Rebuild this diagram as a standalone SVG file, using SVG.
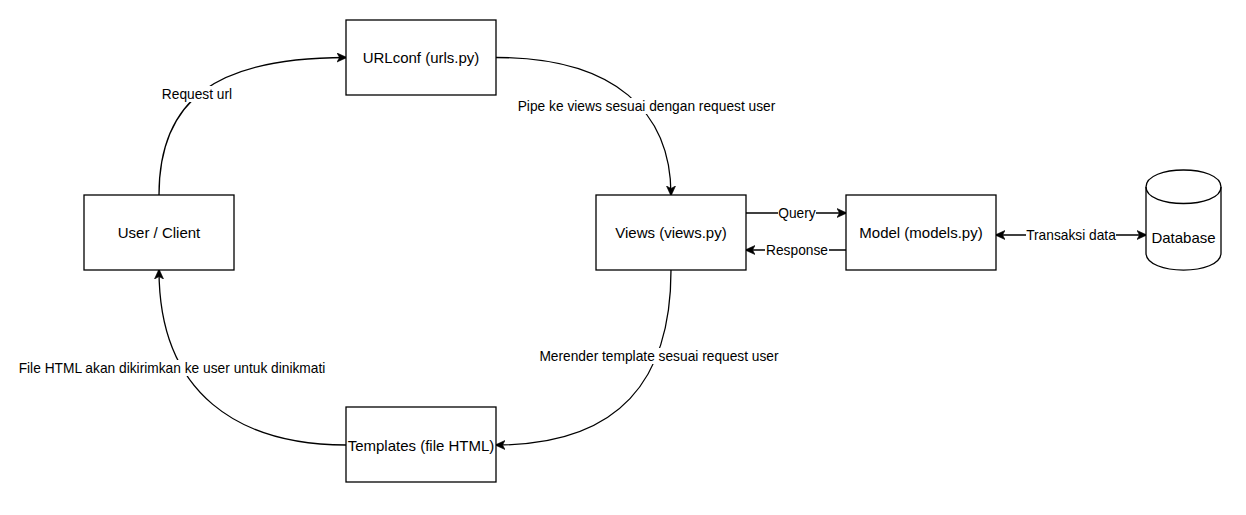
<svg xmlns="http://www.w3.org/2000/svg" width="1246" height="515" viewBox="0 0 1246 515">
<style>
  .box { fill: #ffffff; stroke: #000000; stroke-width: 1.3; }
  .ntext { font-family: "Liberation Sans", Arial, sans-serif; font-size: 15px; fill: #000000; text-anchor: middle; }
  .edge { fill: none; stroke: #000000; stroke-width: 1.3; }
  .ltext { font-family: "Liberation Sans", Arial, sans-serif; font-size: 13.75px; fill: #000000; text-anchor: middle; }
  .lbg { fill: #ffffff; stroke: none; }
</style>
<defs>
  <marker id="arrow" viewBox="0 0 10 10" refX="9" refY="5" markerWidth="10" markerHeight="10" markerUnits="userSpaceOnUse" orient="auto-start-reverse">
    <path d="M0,0.5 L10,5 L0,9.5 L2.5,5 Z" fill="#000000" stroke="#000000" stroke-width="0.6"/>
  </marker>
</defs>
<rect width="1246" height="515" fill="#ffffff"/>

<g id="connectors">
  <path class="edge" d="M159,195 C159,100 215,57.5 346,57.5" marker-end="url(#arrow)"/>
  <path class="edge" d="M496,57.5 C615,57.5 671,112 671,195" marker-end="url(#arrow)"/>
  <path class="edge" d="M671,270 C671,380 620,445 496,445" marker-end="url(#arrow)"/>
  <path class="edge" d="M346,445 C240,445 159,395 159,270" marker-end="url(#arrow)"/>
  <path class="edge" d="M746,213 L846,213" marker-end="url(#arrow)"/>
  <path class="edge" d="M846,250 L746,250" marker-end="url(#arrow)"/>
  <path class="edge" d="M996,235 L1146,235" marker-start="url(#arrow)" marker-end="url(#arrow)"/>

  <g id="label-request">
    <rect class="lbg" x="161" y="86" width="72" height="16"/>
    <text class="ltext" x="197" y="99">Request url</text>
  </g>
  <g id="label-pipe">
    <rect class="lbg" x="517" y="98" width="259" height="16"/>
    <text class="ltext" x="646.5" y="111">Pipe ke views sesuai dengan request user</text>
  </g>
  <g id="label-merender">
    <rect class="lbg" x="538" y="348" width="242" height="16"/>
    <text class="ltext" x="659" y="361">Merender template sesuai request user</text>
  </g>
  <g id="label-file">
    <rect class="lbg" x="18" y="360" width="308" height="16"/>
    <text class="ltext" x="172" y="373">File HTML akan dikirimkan ke user untuk dinikmati</text>
  </g>
  <g id="label-query">
    <rect class="lbg" x="778" y="206" width="38" height="15"/>
    <text class="ltext" x="797" y="218">Query</text>
  </g>
  <g id="label-response">
    <rect class="lbg" x="765" y="243" width="64" height="15"/>
    <text class="ltext" x="797" y="255">Response</text>
  </g>
  <g id="label-transaksi">
    <rect class="lbg" x="1026" y="227" width="90" height="16"/>
    <text class="ltext" x="1071" y="240">Transaksi data</text>
  </g>
</g>

<g id="node-urlconf">
  <rect class="box" x="346" y="20" width="150" height="75"/>
  <text class="ntext" x="421" y="63">URLconf (urls.py)</text>
</g>
<g id="node-user">
  <rect class="box" x="84" y="195" width="150" height="75"/>
  <text class="ntext" x="159" y="238">User / Client</text>
</g>
<g id="node-views">
  <rect class="box" x="596" y="195" width="150" height="75"/>
  <text class="ntext" x="671" y="238">Views (views.py)</text>
</g>
<g id="node-model">
  <rect class="box" x="846" y="195" width="150" height="75"/>
  <text class="ntext" x="921" y="238">Model (models.py)</text>
</g>
<g id="node-templates">
  <rect class="box" x="346" y="407" width="150" height="75"/>
  <text class="ntext" x="421" y="450.5">Templates (file HTML)</text>
</g>
<g id="node-database">
  <path class="box" d="M1146,187 C1146,164.3 1221,164.3 1221,187 L1221,253 C1221,275.7 1146,275.7 1146,253 Z"/>
  <path class="box" style="fill:none" d="M1146,187 C1146,209 1221,209 1221,187"/>
  <text class="ntext" x="1183.5" y="242.5">Database</text>
</g>
</svg>
